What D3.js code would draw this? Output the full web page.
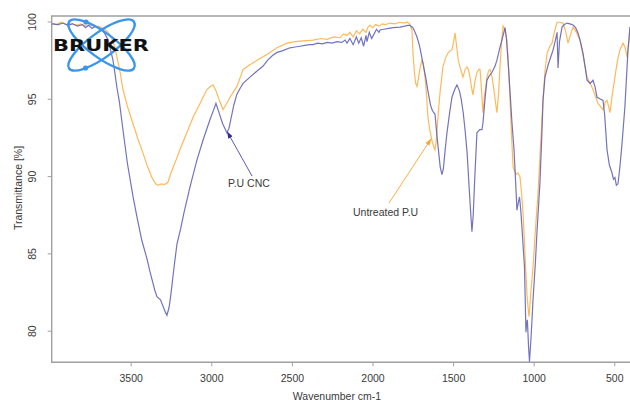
<!DOCTYPE html>
<html>
<head>
<meta charset="utf-8">
<script src="https://cdn.jsdelivr.net/npm/d3@7"></script>
<style>
  html, body { margin: 0; padding: 0; background: #fff; }
  svg { display: block; font-family: "Liberation Sans", Arial, sans-serif; }
</style>
</head>
<body>
<svg id="chart" width="630" height="400"></svg>
<script>
// ---------------- data ----------------
const seriesNames = ["P.U CNC", "Untreated P.U"];
const xTickValues = [3500, 3000, 2500, 2000, 1500, 1000, 500];
const yTickValues = [80, 85, 90, 95, 100];

const wnCNC = [3990,3950,3920,3890,3860,3830,3800,3780,3760,3740,3720,3700,3680,3660,3640,3628,3610,3597,3585,3570,3548,3520,3486,3460,3430,3400,3380,3350,3337,3315,3300,3285,3275,3262,3250,3230,3213,3190,3170,3150,3132,3090,3052,3010,2985,2971,2955,2930,2903,2890,2880,2860,2841,2820,2803,2760,2716,2680,2650,2620,2592,2560,2512,2480,2450,2420,2390,2369,2340,2310,2280,2250,2220,2190,2170,2158,2140,2120,2100,2085,2070,2055,2040,2034,2020,2005,1990,1975,1960,1953,1930,1900,1870,1829,1800,1780,1767,1750,1740,1724,1710,1700,1687,1670,1656,1640,1631,1620,1612,1600,1590,1580,1569,1560,1550,1538,1520,1507,1490,1476,1460,1450,1437,1425,1413,1400,1390,1383,1375,1365,1352,1335,1321,1315,1300,1290,1275,1259,1240,1228,1210,1197,1185,1178,1170,1160,1147,1135,1122,1110,1104,1095,1088,1080,1073,1057,1048,1043,1039,1032,1026,1015,1004,990,980,961,950,942,930,910,880,865,855,849,840,824,810,793,775,756,740,725,710,694,680,669,650,632,620,607,590,570,560,545,530,514,505,496,487,477,465,452,434,415,403];
const tCNC = [99.85,99.8,99.9,99.75,99.85,99.7,99.8,99.6,99.75,99.55,99.7,99.6,99.5,99.2,98.8,98.3,97.5,96.6,95.7,94.8,93.0,90.8,88.7,87.3,85.8,84.7,83.8,82.6,82.2,82.0,81.6,81.2,81.0,81.5,82.4,84.2,85.6,86.6,87.6,88.5,89.3,91.0,92.3,93.6,94.3,94.7,94.2,93.4,92.8,93.1,93.6,94.6,95.3,95.7,96.0,96.4,96.8,97.1,97.5,97.8,98.0,98.1,98.3,98.35,98.4,98.45,98.5,98.5,98.6,98.55,98.65,98.6,98.7,98.65,98.8,98.6,98.9,98.5,99.0,98.6,98.95,98.4,99.1,98.7,99.3,98.9,99.2,99.5,99.3,99.45,99.5,99.55,99.6,99.64,99.7,99.75,99.75,99.6,99.4,99.0,98.5,98.0,97.3,96.4,95.5,94.6,94.3,94.1,94.0,92.6,91.6,90.6,90.1,90.5,91.6,92.8,94.2,95.1,95.6,95.9,95.5,95.0,94.1,92.9,91.5,89.2,87.5,86.4,87.5,90.0,92.8,93.0,93.0,93.4,95.2,96.2,96.5,96.7,97.1,97.5,98.3,98.8,99.3,99.6,99.0,97.6,95.5,93.5,91.7,89.2,87.8,88.3,88.65,87.8,86.7,84.1,79.9,80.5,80.7,79.0,78.0,79.8,82.0,84.3,86.3,89.6,92.5,94.9,96.4,97.2,98.15,98.8,99.3,97.0,98.7,99.64,99.8,99.9,99.85,99.77,99.6,99.26,98.7,97.96,97.0,96.2,96.0,96.2,95.8,95.1,95.0,94.9,94.0,91.7,90.7,90.2,89.8,89.9,89.4,89.5,90.6,92.1,94.5,98.15,99.64];

const wnPU = [3990,3960,3930,3900,3870,3840,3810,3780,3750,3720,3700,3680,3660,3640,3620,3600,3585,3565,3548,3520,3486,3455,3424,3395,3368,3345,3331,3310,3290,3269,3250,3220,3195,3160,3113,3070,3027,3005,2989,2970,2950,2927,2910,2884,2860,2841,2820,2803,2760,2716,2650,2592,2530,2480,2430,2369,2320,2280,2240,2200,2180,2158,2140,2120,2100,2080,2060,2040,2030,2016,2000,1980,1960,1940,1920,1892,1860,1830,1800,1786,1770,1760,1755,1749,1740,1732,1724,1715,1705,1693,1685,1674,1665,1656,1645,1631,1620,1612,1605,1594,1580,1563,1548,1532,1520,1507,1495,1488,1478,1468,1457,1439,1425,1414,1405,1395,1385,1377,1365,1352,1340,1333,1325,1315,1305,1290,1280,1271,1262,1252,1240,1228,1218,1209,1200,1190,1180,1166,1158,1147,1138,1128,1110,1098,1085,1076,1066,1055,1042,1035,1029,1020,1004,990,973,960,942,930,917,900,886,870,855,840,818,800,787,770,756,735,713,690,669,650,632,615,601,585,570,555,545,535,527,512,496,480,465,446,432,421,410,403];
const tPU = [99.9,99.8,99.95,99.8,99.9,99.75,99.85,99.7,99.8,99.65,99.7,99.6,99.5,99.3,99.0,98.4,97.7,96.7,95.6,94.5,93.4,92.4,91.5,90.6,89.9,89.5,89.4,89.5,89.45,89.6,90.2,91.0,91.7,92.6,93.8,94.7,95.6,95.8,95.9,95.5,94.9,94.3,94.6,95.1,95.5,95.8,96.4,96.9,97.2,97.5,97.9,98.3,98.6,98.7,98.75,98.8,98.9,98.85,99.0,98.95,99.2,99.1,99.3,99.0,99.4,99.2,99.5,99.3,99.6,99.77,99.6,99.8,99.7,99.85,99.8,99.9,99.85,99.95,99.9,99.97,99.85,99.6,99.45,97.96,96.7,96.0,95.8,96.3,97.0,97.5,97.3,96.4,95.3,93.8,93.0,92.3,91.9,91.7,92.2,93.8,95.5,97.06,97.6,97.96,98.1,98.16,98.8,99.26,98.4,97.5,97.06,96.4,96.9,97.06,96.9,96.4,95.7,95.25,96.1,96.7,96.9,96.9,95.8,94.1,95.2,96.4,96.8,96.9,96.6,96.0,95.0,94.1,95.3,97.06,98.6,99.7,99.5,98.8,97.5,95.0,92.8,90.6,90.1,90.2,89.95,89.0,87.6,85.2,82.4,81.5,80.9,82.2,84.1,86.4,88.9,91.5,94.9,96.8,97.96,98.4,98.6,99.4,99.95,99.95,99.9,99.3,98.6,99.2,99.64,99.3,98.8,97.6,96.4,96.0,95.6,95.1,94.7,94.5,94.3,94.8,94.9,94.5,94.1,95.3,96.4,97.5,98.16,98.6,98.3,97.7,98.6,99.26];

// ---------------- layout ----------------
const svg = d3.select("#chart");
const plotL = 51.7, plotR = 630.4, plotT = 16, plotB = 362.3;
const x = d3.scaleLinear().domain([3990, 400]).range([plotL, plotR]);
const y = d3.scaleLinear().domain([80, 100]).range([330.7, 21.5]);
const axisColor = "#a0a0a0";
const blue = "#5a5ab4";
const orange = "#ffb95a";

svg.append("defs").append("clipPath").attr("id", "clip")
  .append("rect").attr("x", plotL).attr("y", plotT)
  .attr("width", plotR - plotL).attr("height", plotB - plotT);

// frame (left, top, bottom)
svg.append("path")
  .attr("d", `M${plotR},${plotT}H${plotL}V${plotB}H${plotR}`)
  .attr("fill", "none").attr("stroke", axisColor).attr("stroke-width", 1.4);

// x axis
const gx = svg.append("g").attr("transform", `translate(0,${plotB})`)
  .call(d3.axisBottom(x).tickValues(xTickValues).tickSize(4).tickPadding(8).tickFormat(d3.format("d")));
gx.select(".domain").remove();
gx.selectAll(".tick line").attr("stroke", axisColor);
gx.selectAll(".tick text").attr("fill", "#3a3a3a").style("font-size", "10.5px")
  .style("font-family", "'Liberation Sans', Arial, sans-serif");

// y axis
const gy = svg.append("g").attr("transform", `translate(${plotL},0)`)
  .call(d3.axisLeft(y).tickValues(yTickValues).tickSize(4));
gy.select(".domain").remove();
gy.selectAll(".tick line").attr("stroke", axisColor);
gy.selectAll(".tick text")
  .attr("x", 0).attr("y", -16).attr("dy", null)
  .attr("text-anchor", "middle").attr("transform", "rotate(-90)")
  .attr("fill", "#3a3a3a").style("font-size", "10.5px")
  .style("font-family", "'Liberation Sans', Arial, sans-serif");

// axis titles
svg.append("text").attr("x", 337).attr("y", 399.5).attr("text-anchor", "middle")
  .attr("fill", "#3a3a3a").style("font-size", "10.5px").text("Wavenumber cm-1");
svg.append("text").attr("transform", "translate(21.5,188) rotate(-90)")
  .attr("text-anchor", "middle").attr("fill", "#3a3a3a").style("font-size", "10.5px")
  .text("Transmittance [%]");

// lines
const line = d3.line().x(d => x(d[0])).y(d => y(d[1]));
const plot = svg.append("g").attr("clip-path", "url(#clip)");
plot.append("path").datum(d3.zip(wnPU, tPU))
  .attr("d", line).attr("fill", "none").attr("stroke", orange).attr("stroke-width", 1.2);
plot.append("path").datum(d3.zip(wnCNC, tCNC))
  .attr("d", line).attr("fill", "none").attr("stroke", blue).attr("stroke-width", 1.2)
  .attr("stroke-opacity", 0.85);

// annotations
const defs = svg.select("defs");
function marker(id, color) {
  defs.append("marker").attr("id", id).attr("viewBox", "0 0 10 10")
    .attr("refX", 9).attr("refY", 5).attr("markerWidth", 7).attr("markerHeight", 7)
    .attr("orient", "auto").attr("markerUnits", "userSpaceOnUse")
    .append("path").attr("d", "M0,1.5L10,5L0,8.5Z").attr("fill", color);
}
marker("arrB", "#2e2e96");
marker("arrO", "#ffa530");

svg.append("line").attr("x1", 252).attr("y1", 176).attr("x2", x(2900)).attr("y2", y(92.85))
  .attr("stroke", "#5a5ab4").attr("stroke-width", 1).attr("marker-end", "url(#arrB)");
svg.append("text").attr("x", 228).attr("y", 186.5).attr("fill", "#3a3a3a")
  .style("font-size", "10.5px").text(seriesNames[0]);

svg.append("line").attr("x1", 389).attr("y1", 203).attr("x2", 431).attr("y2", 139)
  .attr("stroke", "#ffad45").attr("stroke-width", 1).attr("marker-end", "url(#arrO)");
svg.append("text").attr("x", 353).attr("y", 215.5).attr("fill", "#3a3a3a")
  .style("font-size", "10.5px").text(seriesNames[1]);

// Bruker logo
const logo = svg.append("g").attr("transform", "translate(101.5,45)");
[-36, 36].forEach(a => {
  logo.append("ellipse").attr("rx", 40).attr("ry", 12.5)
    .attr("transform", `rotate(${a})`)
    .attr("fill", "none").attr("stroke", "#3a96ec").attr("stroke-width", 2.4);
});
logo.append("circle").attr("cx", -15.5).attr("cy", -23).attr("r", 2.6).attr("fill", "#3a96ec");
logo.append("circle").attr("cx", -16).attr("cy", 23).attr("r", 2.6).attr("fill", "#3a96ec");
logo.append("text").attr("x", -48.5).attr("y", 6).attr("fill", "#111")
  .attr("textLength", 96).attr("lengthAdjust", "spacingAndGlyphs")
  .style("font-size", "15.5px").style("font-weight", "900")
  .style("font-family", "'DejaVu Sans', 'Liberation Sans', sans-serif")
  .text("BRUKER");
</script>
</body>
</html>
